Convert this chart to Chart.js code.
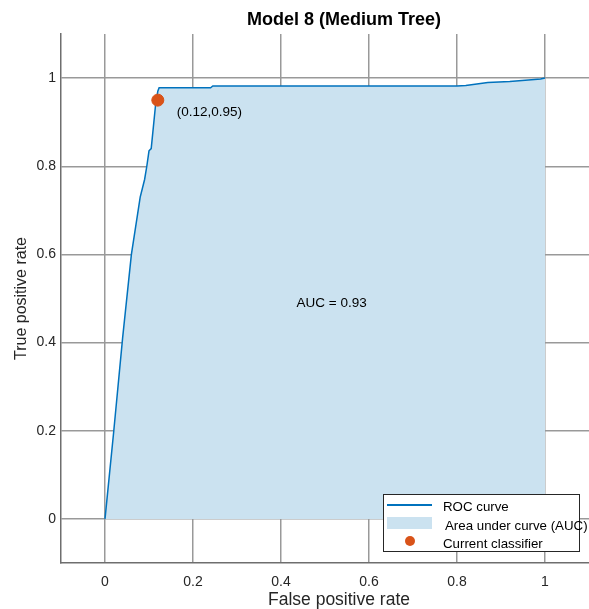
<!DOCTYPE html>
<html>
<head>
<meta charset="utf-8">
<script src="https://cdn.jsdelivr.net/npm/chart.js@4.4.0/dist/chart.umd.min.js"></script>
<style>
  html, body { margin: 0; padding: 0; background: #fff; overflow: hidden; }
</style>
</head>
<body>
<canvas id="roc" width="589" height="609"></canvas>
<script>
// ROC curve points
var fprValues = [0, 0.02, 0.04, 0.06, 0.08, 0.09, 0.095, 0.1, 0.105, 0.11, 0.115, 0.12, 0.123, 0.24, 0.245, 0.8, 0.82, 0.87, 0.92, 0.99, 1];
var tprValues = [0, 0.2, 0.41, 0.6, 0.73, 0.77, 0.8, 0.835, 0.84, 0.89, 0.94, 0.97, 0.978, 0.978, 0.982, 0.982, 0.983, 0.99, 0.992, 0.998, 1];

// current classifier operating point
var classifierX = [0.12];
var classifierY = [0.95];

// axis ticks
var tickValues = [0, 0.2, 0.4, 0.6, 0.8, 1];

var aucText = 'AUC = 0.93';
var chartTitle = 'Model 8 (Medium Tree)';
var xTitle = 'False positive rate';
var legendLabels = ['ROC curve', 'Area under curve (AUC)', 'Current classifier'];

var lineColor = '#0072BD';
var fillColor = '#CBE2F0';
var dotColor = '#D95319';
var fontName = '"Liberation Sans", Arial, sans-serif';

var rocPoints = fprValues.map(function (v, i) { return { x: v, y: tprValues[i] }; });
var dotPoints = classifierX.map(function (v, i) { return { x: v, y: classifierY[i] }; });

// fixed tick positions like matlab
function setTicks(scale) {
    scale.ticks = tickValues.map(function (v) { return { value: v }; });
}

// the plot box runs right up to the window edge, so stretch it after layout
var stretchPlugin = {
    id: 'stretch',
    afterLayout: function (chart) {
        var area = chart.chartArea;
        var xs = chart.scales.x;
        area.right = chart.width;
        area.width = area.right - area.left;
        xs.right = chart.width;
        xs.width = xs.right - xs.left;
        xs.configure();
    }
};

// title, text labels and legend drawn on top
var extrasPlugin = {
    id: 'extras',
    afterDraw: function (chart) {
        var ctx = chart.ctx;
        var xs = chart.scales.x;
        var ys = chart.scales.y;
        ctx.save();

        // title
        ctx.fillStyle = '#000';
        ctx.font = 'bold 18px ' + fontName;
        ctx.textAlign = 'center';
        ctx.textBaseline = 'middle';
        ctx.fillText(chartTitle, 344, 20);

        // x axis title (matlab centres it a bit right of the visible box)
        ctx.fillStyle = '#262626';
        ctx.font = '17.5px ' + fontName;
        ctx.fillText(xTitle, 339, 600);

        // point label
        ctx.font = '13.5px ' + fontName;
        ctx.fillStyle = '#000';
        ctx.textAlign = 'left';
        ctx.fillText('(' + classifierX[0] + ',' + classifierY[0] + ')', xs.getPixelForValue(classifierX[0]) + 19, ys.getPixelForValue(classifierY[0]) + 12);

        // auc label
        ctx.textAlign = 'center';
        ctx.fillText(aucText, xs.getPixelForValue(0.515), ys.getPixelForValue(0.49));

        // legend box
        var lx = 383, ly = 494, lw = 196, lh = 57;
        ctx.fillStyle = '#fff';
        ctx.fillRect(lx, ly, lw, lh);
        ctx.strokeStyle = '#262626';
        ctx.lineWidth = 1;
        ctx.strokeRect(lx + 0.5, ly + 0.5, lw, lh);

        ctx.strokeStyle = lineColor;
        ctx.lineWidth = 2;
        ctx.beginPath();
        ctx.moveTo(387, 505);
        ctx.lineTo(432, 505);
        ctx.stroke();

        ctx.fillStyle = fillColor;
        ctx.fillRect(387, 517, 45, 12);

        ctx.fillStyle = dotColor;
        ctx.beginPath();
        ctx.arc(410, 541, 5, 0, Math.PI * 2);
        ctx.fill();

        ctx.fillStyle = '#000';
        ctx.font = '13.3px ' + fontName;
        ctx.textAlign = 'left';
        ctx.fillText(legendLabels[0], 443, 507);
        ctx.fillText(legendLabels[1], 445, 526);
        ctx.fillText(legendLabels[2], 443, 544);

        ctx.restore();
    }
};

var ctx = document.getElementById('roc').getContext('2d');
var chart = new Chart(ctx, {
    type: 'scatter',
    data: {
        datasets: [
            {
                label: 'Current classifier',
                data: dotPoints,
                backgroundColor: dotColor,
                borderColor: dotColor,
                pointRadius: 6,
                order: 0
            },
            {
                label: 'ROC curve',
                data: rocPoints,
                showLine: true,
                borderColor: lineColor,
                borderWidth: 1.5,
                backgroundColor: fillColor,
                fill: 'origin',
                pointRadius: 0,
                tension: 0,
                order: 1
            }
        ]
    },
    options: {
        responsive: false,
        animation: false,
        layout: { padding: { top: 34, right: 0, left: 0, bottom: 0 } },
        plugins: {
            legend: { display: false },
            tooltip: { enabled: false },
            title: { display: false }
        },
        scales: {
            x: {
                type: 'linear',
                min: -0.1,
                max: 1.1,
                afterBuildTicks: setTicks,
                afterFit: function (scale) {
                    scale.height = 46;
                },
                grid: { color: '#999999', lineWidth: 1.5, drawTicks: false },
                border: { display: true, color: '#6e6e6e', width: 1.5 },
                ticks: {
                    color: '#262626', font: { size: 14, family: fontName }, padding: 11, maxRotation: 0,
                    callback: function (v) { return String(v); }
                },
                title: { display: false }
            },
            y: {
                type: 'linear',
                min: -0.1,
                max: 1.1,
                afterBuildTicks: setTicks,
                afterFit: function (scale) {
                    scale.width = 61;
                },
                grid: { color: '#999999', lineWidth: 1.5, drawTicks: false },
                border: { display: true, color: '#6e6e6e', width: 1.5 },
                ticks: {
                    color: '#262626', font: { size: 14, family: fontName }, padding: 5,
                    callback: function (v) { return String(v); }
                },
                title: { display: true, text: 'True positive rate', color: '#262626', font: { size: 16, family: fontName }, padding: { top: 12, bottom: 0 } }
            }
        }
    },
    plugins: [stretchPlugin, extrasPlugin]
});
</script>
</body>
</html>
